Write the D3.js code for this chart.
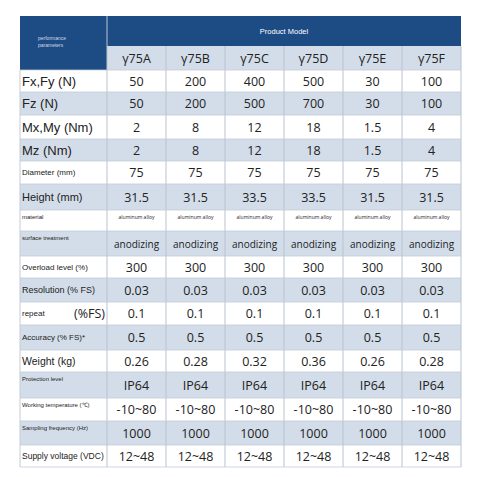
<!DOCTYPE html>
<html><head><meta charset="utf-8">
<script src="https://cdn.jsdelivr.net/npm/d3@7"></script>
<style>body{margin:0;background:#fff}</style>
</head><body>
<svg id="c" width="480" height="477"></svg>
<script>
const models = ['γ75A', 'γ75B', 'γ75C', 'γ75D', 'γ75E', 'γ75F'];
const labels = ['Fx,Fy (N)', 'Fz (N)', 'Mx,My (Nm)', 'Mz (Nm)', 'Diameter (mm)', 'Height (mm)',
  'material', 'surface treatment', 'Overload level (%)', 'Resolution (% FS)', 'repeat', 'Accuracy (% FS)*',
  'Weight (kg)', 'Protection level', 'Working temperature (℃)', 'Sampling frequency (Hz)', 'Supply voltage (VDC)'];
const labelSize = [13, 13, 13, 13, 8, 11, 6, 6, 8, 9, 8, 8, 10.5, 6, 6, 6, 8.5];
const values = [
  ['50', '200', '400', '500', '30', '100'],
  ['50', '200', '500', '700', '30', '100'],
  ['2', '8', '12', '18', '1.5', '4'],
  ['2', '8', '12', '18', '1.5', '4'],
  ['75', '75', '75', '75', '75', '75'],
  ['31.5', '31.5', '33.5', '33.5', '31.5', '31.5'],
  ['aluminum alloy', 'aluminum alloy', 'aluminum alloy', 'aluminum alloy', 'aluminum alloy', 'aluminum alloy'],
  ['anodizing', 'anodizing', 'anodizing', 'anodizing', 'anodizing', 'anodizing'],
  ['300', '300', '300', '300', '300', '300'],
  ['0.03', '0.03', '0.03', '0.03', '0.03', '0.03'],
  ['0.1', '0.1', '0.1', '0.1', '0.1', '0.1'],
  ['0.5', '0.5', '0.5', '0.5', '0.5', '0.5'],
  ['0.26', '0.28', '0.32', '0.36', '0.26', '0.28'],
  ['IP64', 'IP64', 'IP64', 'IP64', 'IP64', 'IP64'],
  ['-10~80', '-10~80', '-10~80', '-10~80', '-10~80', '-10~80'],
  ['1000', '1000', '1000', '1000', '1000', '1000'],
  ['12~48', '12~48', '12~48', '12~48', '12~48', '12~48']
];
const rowEdges = [70, 92, 115, 139, 161, 184, 210, 231, 256, 278, 302, 325, 350, 372, 398, 421, 445, 467];

const svg = d3.select('#c');
const font = 'Liberation Sans, Arial, sans-serif';
const vfont = 'Open Sans, Noto Sans, sans-serif';
const x = d3.scaleBand().domain(models).range([107, 461]);
const left = 20;

// header
svg.append('rect').attr('x', left).attr('y', 16).attr('width', 441).attr('height', 30).attr('fill', '#1d4c85');
svg.append('rect').attr('x', left).attr('y', 16).attr('width', 87).attr('height', 54).attr('fill', '#1d4c85');
svg.append('rect').attr('x', 107).attr('y', 46).attr('width', 354).attr('height', 24).attr('fill', '#d3dde9');
svg.append('text').attr('x', x.range()[0] + (x.range()[1] - x.range()[0]) / 2).attr('y', 34)
  .attr('text-anchor', 'middle').attr('fill', '#fff').attr('font-family', font).attr('font-size', 7.5).text('Product Model');
svg.append('text').attr('x', 38).attr('y', 40).attr('fill', '#cfd8e6').attr('font-family', font).attr('font-size', 5)
  .selectAll('tspan').data(['performance', 'parameters']).join('tspan')
  .attr('x', 38).attr('dy', (d, i) => i ? 7 : 0).text(d => d);
svg.selectAll('.mh').data(models).join('text')
  .attr('x', d => x(d) + x.bandwidth() / 2).attr('y', 63).attr('text-anchor', 'middle')
  .attr('font-family', vfont).attr('font-size', 12.5).attr('fill', '#222').text(d => d);

// rows
const rows = svg.selectAll('.row').data(labels).join('g');
rows.append('rect').attr('x', left).attr('y', (d, i) => rowEdges[i])
  .attr('width', 441).attr('height', (d, i) => rowEdges[i + 1] - rowEdges[i])
  .attr('fill', (d, i) => i % 2 ? '#d3dde9' : '#fff');
rows.append('text').attr('x', 22).attr('y', (d, i) => labelSize[i] < 8 ? rowEdges[i] + 9 : (rowEdges[i] + rowEdges[i + 1]) / 2 + labelSize[i] * 0.35)
  .attr('font-family', font).attr('font-size', (d, i) => labelSize[i]).attr('fill', '#222').text(d => d);
svg.append('text').attr('x', 105).attr('y', 318).attr('text-anchor', 'end')
  .attr('font-family', vfont).attr('font-size', 12.5).attr('fill', '#222').text('(%FS)');
rows.each(function (d, i) {
  d3.select(this).selectAll('.v').data(values[i]).join('text')
    .attr('x', (v, j) => x(models[j]) + x.bandwidth() / 2)
    .attr('y', i === 6 ? rowEdges[i] + 9 : (rowEdges[i] + rowEdges[i + 1]) / 2 + 4.5)
    .attr('text-anchor', 'middle').attr('font-family', vfont)
    .attr('font-size', i === 6 ? 5 : i === 7 ? 10 : 12.5).attr('fill', '#222').text(v => v);
});

// grid
svg.selectAll('.vl').data(models.map(m => x(m)).concat([461])).join('line')
  .attr('x1', d => d).attr('x2', d => d).attr('y1', d => d === 107 ? 16 : 46).attr('y2', 467)
  .attr('stroke', '#b9c3cf').attr('stroke-width', 1);
svg.selectAll('.hl').data(rowEdges).join('line')
  .attr('x1', left).attr('x2', 461).attr('y1', d => d).attr('y2', d => d)
  .attr('stroke', '#c3ccd7').attr('stroke-width', 0.8);
svg.append('line').attr('x1', left).attr('x2', left).attr('y1', 70).attr('y2', 467).attr('stroke', '#c3ccd7');
</script>
</body></html>
